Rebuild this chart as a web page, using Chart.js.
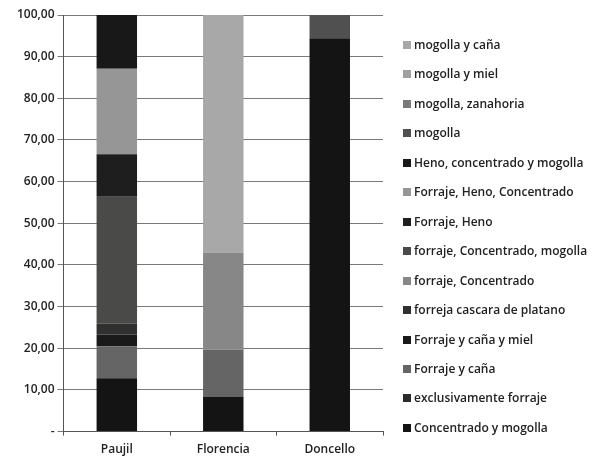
<!DOCTYPE html>
<html lang="es">
<head>
    <meta charset="UTF-8">
    <title>Alimentación por municipio</title>
    <script src="https://cdn.jsdelivr.net/npm/chart.js"></script>
    <style>
        body {
            margin: 0;
            background: #fff;
            font-family: 'Open Sans', sans-serif;
        }
        .wrap {
            position: relative;
            width: 597px;
            height: 464px;
        }
        #leyenda {
            position: absolute;
            left: 403px;
            top: 34px;
            margin: 0;
            padding: 0;
            list-style: none;
            font-size: 12px;
            font-weight: 600;
            color: #222;
        }
        #leyenda li {
            height: 29.46px;
            line-height: 22px;
            white-space: nowrap;
        }
        #leyenda span {
            display: inline-block;
            width: 8px;
            height: 8px;
            margin-right: 3px;
        }
    </style>
</head>
<body>
    <div class="wrap">
        <canvas id="feedChart" width="597" height="464"></canvas>
        <ul id="leyenda"></ul>
    </div>

    <script>
        // municipios
        let municipios = ['Paujil', 'Florencia', 'Doncello'];

        // series, de abajo hacia arriba (orden de Excel)
        let tipos = [
            'Concentrado y mogolla',
            'exclusivamente forraje',
            'Forraje y caña',
            'Forraje y caña y miel',
            'forreja cascara de platano',
            'forraje, Concentrado',
            'forraje, Concentrado, mogolla',
            'Forraje, Heno',
            'Forraje, Heno, Concentrado',
            'Heno, concentrado y mogolla',
            'mogolla',
            'mogolla, zanahoria',
            'mogolla y miel',
            'mogolla y caña'
        ];

        // porcentajes por municipio [Paujil, Florencia, Doncello]
        let valores = [
            [12.8, 8.4, 94.4],
            [0, 0, 0],
            [7.7, 11.3, 0],
            [2.8, 0, 0],
            [2.6, 0, 0],
            [0, 23.3, 0],
            [30.5, 0, 0],
            [10.2, 0, 0],
            [20.5, 0, 0],
            [12.9, 0, 0],
            [0, 0, 5.6],
            [0, 0, 0],
            [0, 0, 0],
            [0, 57.0, 0]
        ];

        let grises = [
            '#141414', '#2b2b2b', '#656565', '#1a1a1a', '#303030',
            '#878787', '#4a4a48', '#1e1e1e', '#969696', '#181818',
            '#505050', '#7a7a7a', '#a0a0a0', '#a8a8a8'
        ];

        let datasets = tipos.map((t, i) => ({
            label: t,
            data: valores[i],
            backgroundColor: grises[i],
            borderWidth: 0,
            barPercentage: 0.76,
            categoryPercentage: 0.5
        }));

        // leyenda a la derecha, la ultima serie arriba
        let ul = document.getElementById('leyenda');
        for (let i = tipos.length - 1; i >= 0; i--) {
            let li = document.createElement('li');
            li.innerHTML = '<span style="background:' + grises[i] + '"></span>' + tipos[i];
            ul.appendChild(li);
        }

        let font = { family: "'Open Sans', sans-serif", size: 12, weight: '600' };

        new Chart(document.getElementById('feedChart'), {
            type: 'bar',
            data: { labels: municipios, datasets: datasets },
            options: {
                responsive: false,
                animation: false,
                layout: { padding: { top: 15, left: 14, right: 214, bottom: 0 } },
                plugins: {
                    tooltip: { enabled: false },
                    legend: { display: false }
                },
                scales: {
                    x: {
                        stacked: true,
                        grid: {
                            display: true,
                            drawOnChartArea: false,
                            drawTicks: true,
                            tickLength: 4,
                            offset: true,
                            color: '#555'
                        },
                        border: { color: '#555' },
                        ticks: { color: '#222', font: font, padding: 7 }
                    },
                    y: {
                        stacked: true,
                        min: 0,
                        max: 100,
                        grid: { color: '#7a7a7a', tickLength: 6 },
                        border: { color: '#555' },
                        ticks: {
                            stepSize: 10,
                            color: '#222',
                            font: font,
                            callback: v => v === 0 ? '-' : v.toFixed(2).replace('.', ',')
                        }
                    }
                }
            }
        });
    </script>
</body>
</html>
